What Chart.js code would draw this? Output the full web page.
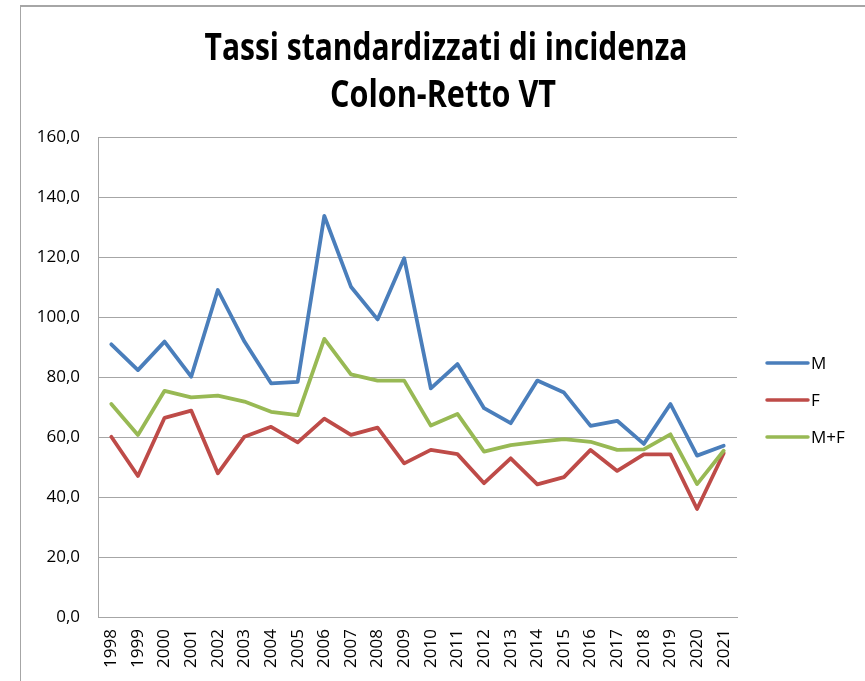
<!DOCTYPE html>
<html>
<head>
<meta charset="utf-8">
<script src="https://cdn.jsdelivr.net/npm/chart.js@4"></script>
<style>
  html, body { margin: 0; padding: 0; background: #ffffff; }
  #wrap { position: relative; width: 865px; height: 681px; overflow: hidden; }
  #frame { position: absolute; left: 20px; top: 5px; width: 900px; height: 700px;
           border-top: 2px solid #a6a6a6; border-left: 1px solid #a6a6a6; box-sizing: border-box; }
  canvas { position: absolute; left: 0; top: 0; }
</style>
</head>
<body>
<div id="wrap">
  <div id="frame"></div>
  <canvas id="c" width="865" height="681"></canvas>
</div>
<script>
const titleLines = ["Tassi standardizzati di incidenza", "Colon-Retto VT"];
const years = ["1998","1999","2000","2001","2002","2003","2004","2005","2006","2007","2008","2009",
               "2010","2011","2012","2013","2014","2015","2016","2017","2018","2019","2020","2021"];
const seriesNames = ["M", "F", "M+F"];
const valuesM  = [90.9, 82.3, 91.8, 80.1, 109.0, 91.8, 77.9, 78.4, 133.7, 110.1, 99.2, 119.6,
                  76.2, 84.3, 69.6, 64.6, 78.8, 74.8, 63.7, 65.4, 57.7, 71.0, 53.8, 57.1];
const valuesF  = [60.1, 47.0, 66.4, 68.8, 47.9, 60.1, 63.4, 58.2, 66.1, 60.7, 63.1, 51.2,
                  55.7, 54.3, 44.6, 52.9, 44.2, 46.6, 55.7, 48.7, 54.2, 54.2, 36.0, 54.6];
const valuesMF = [71.0, 60.7, 75.4, 73.2, 73.8, 71.8, 68.4, 67.3, 92.7, 80.9, 78.8, 78.8,
                  63.8, 67.7, 55.1, 57.3, 58.4, 59.3, 58.4, 55.7, 55.9, 60.9, 44.3, 55.4];
const yTicks = { min: 0, max: 160, step: 20 };

const colors = ["#4a7ebb", "#be4b48", "#98b954"];
const tickFont = { family: '"Open Sans", "Liberation Sans", sans-serif', size: 17 };

const titlePlugin = {
  id: 'customTitle',
  afterDraw(chart) {
    const ctx = chart.ctx;
    const specs = [
      { text: titleLines[0], cx: 446, base: 60, w: 483 },
      { text: titleLines[1], cx: 443, base: 107, w: 226 }
    ];
    ctx.save();
    ctx.fillStyle = '#000000';
    ctx.textAlign = 'center';
    ctx.textBaseline = 'alphabetic';
    ctx.font = 'bold 37px "Open Sans", "DejaVu Sans Condensed", sans-serif';
    specs.forEach(s => {
      const m = ctx.measureText(s.text).width;
      const k = s.w / m;
      ctx.save();
      ctx.translate(s.cx, s.base);
      ctx.scale(k, 1);
      ctx.fillText(s.text, 0, 0);
      ctx.restore();
    });
    ctx.restore();
  }
};

const legendPlugin = {
  id: 'customLegend',
  afterDraw(chart) {
    const ctx = chart.ctx;
    const area = chart.chartArea;
    const x0 = area.right + 30;
    const ys = [363, 400, 437];
    ctx.save();
    chart.data.datasets.forEach((ds, i) => {
      ctx.strokeStyle = ds.borderColor;
      ctx.lineWidth = 3.5;
      ctx.lineCap = 'round';
      ctx.beginPath();
      ctx.moveTo(x0, ys[i]);
      ctx.lineTo(x0 + 41, ys[i]);
      ctx.stroke();
      ctx.fillStyle = '#000000';
      ctx.font = '17px "Open Sans", "Liberation Sans", sans-serif';
      ctx.textAlign = 'left';
      ctx.textBaseline = 'middle';
      ctx.fillText(ds.label, x0 + 44, ys[i] + 1);
    });
    ctx.restore();
  }
};

const mk = (label, data, color, order) => ({
  label, data, borderColor: color, backgroundColor: color,
  borderWidth: 3.8, pointRadius: 0, pointHoverRadius: 0, tension: 0,
  borderJoinStyle: 'round', borderCapStyle: 'round', fill: false, order
});

new Chart(document.getElementById('c'), {
  type: 'line',
  data: {
    labels: years,
    datasets: [
      mk(seriesNames[0], valuesM, colors[0], 3),
      mk(seriesNames[1], valuesF, colors[1], 2),
      mk(seriesNames[2], valuesMF, colors[2], 1)
    ]
  },
  options: {
    responsive: false,
    animation: false,
    events: [],
    layout: { padding: { left: 0, top: 137, right: 128, bottom: 0 } },
    plugins: { legend: { display: false }, title: { display: false }, tooltip: { enabled: false } },
    scales: {
      x: {
        offset: true,
        grid: { display: false, drawTicks: false },
        border: { display: true, color: '#a6a6a6', width: 1 },
        ticks: { color: '#000000', font: tickFont, minRotation: 90, maxRotation: 90, padding: 12, autoSkip: false },
        afterFit(s) { s.height = 64; }
      },
      y: {
        min: yTicks.min, max: yTicks.max,
        grid: { color: '#a6a6a6', lineWidth: 1, drawTicks: false },
        border: { display: true, color: '#a6a6a6', width: 1 },
        ticks: {
          stepSize: yTicks.step, color: '#000000', font: tickFont, padding: 18,
          callback: v => v.toFixed(1).replace('.', ',')
        },
        afterFit(s) { s.width = 98; }
      }
    }
  },
  plugins: [titlePlugin, legendPlugin]
});
</script>
</body>
</html>
